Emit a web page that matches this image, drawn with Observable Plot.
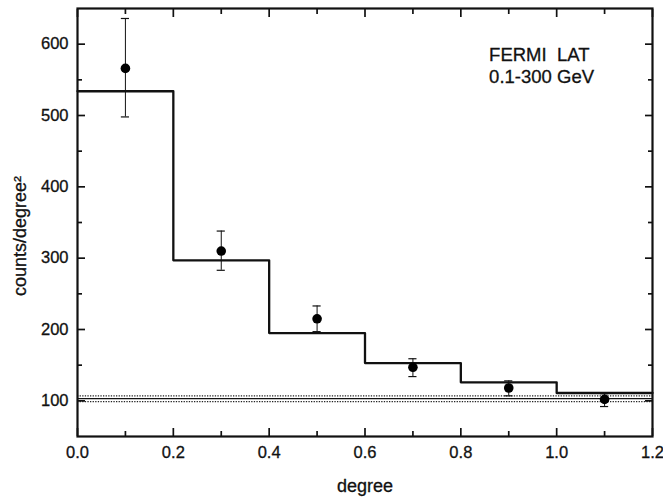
<!DOCTYPE html>
<html>
<head>
<meta charset="utf-8">
<script src="https://cdn.jsdelivr.net/npm/d3@7"></script>
<script src="https://cdn.jsdelivr.net/npm/@observablehq/plot@0.6"></script>
<style>
  html, body { margin: 0; padding: 0; background: #fff; }
  #chart svg { display: block; }
  #chart svg text { stroke: #111; stroke-width: 0.3px; }
</style>
</head>
<body>
<div id="chart"></div>
<script>
// Histogram (model) bin edges and heights
const binEdges = [0, 0.2, 0.4, 0.6, 0.8, 1.0, 1.2];
const binCounts = [534, 297, 195, 153, 126, 111];

// Data points with error bars
const pointX = [0.1, 0.3, 0.5, 0.7, 0.9, 1.1];
const pointY = [566, 310, 215, 147, 118, 102];
const errLow = [498, 283, 197, 134, 107, 92];
const errHigh = [636, 338, 233, 159, 128, 110];

// Background level and its band
const bgLevel = [103];
const bgBand = [99, 107];

// Tick values
const xMajorTicks = [0, 0.2, 0.4, 0.6, 0.8, 1.0, 1.2];
const xMinorTicks = [0.1, 0.3, 0.5, 0.7, 0.9, 1.1];
const yMajorTicks = [100, 200, 300, 400, 500, 600];
const yMinorTicks = [150, 250, 350, 450, 550];

const xTitle = "degree";
const yTitle = "counts/degree\u00b2";
const annotation = "FERMI\u00a0\u00a0LAT\n0.1-300 GeV";

const steps = binEdges.map((x, i) => ({x, y: binCounts[Math.min(i, binCounts.length - 1)]}));
const points = pointX.map((x, i) => ({x, y: pointY[i], low: errLow[i], high: errHigh[i]}));
const capHalf = 0.0085;

const font = "'Liberation Sans', Arial, Helvetica, sans-serif";
const tickOpts = {tickFormat: () => "", label: null, strokeWidth: 1.7};

const chart = Plot.plot({
  width: 663,
  height: 498,
  marginLeft: 77,
  marginRight: 11,
  marginTop: 8,
  marginBottom: 62,
  style: {fontFamily: font, color: "#111", background: "#fff"},
  x: {domain: [0, 1.2]},
  y: {domain: [50, 650]},
  marks: [
    // background band and level
    Plot.ruleY(bgBand, {stroke: "#222", strokeWidth: 1.3, strokeDasharray: "1.3,1.3"}),
    Plot.ruleY(bgLevel, {stroke: "#111", strokeWidth: 1.2}),
    // model histogram
    Plot.line(steps, {x: "x", y: "y", curve: "step-after", stroke: "#111", strokeWidth: 2.3}),
    // error bars
    Plot.ruleX(points, {x: "x", y1: "low", y2: "high", stroke: "#111", strokeWidth: 1}),
    Plot.ruleY(points, {y: "low", x1: d => d.x - capHalf, x2: d => d.x + capHalf, stroke: "#111", strokeWidth: 1.2}),
    Plot.ruleY(points, {y: "high", x1: d => d.x - capHalf, x2: d => d.x + capHalf, stroke: "#111", strokeWidth: 1.2}),
    Plot.dot(points, {x: "x", y: "y", r: 4.8, fill: "#000", stroke: "none"}),
    // inward ticks on all four sides
    Plot.axisX(xMajorTicks, {anchor: "bottom", tickSize: -8, ...tickOpts}),
    Plot.axisX(xMinorTicks, {anchor: "bottom", tickSize: -5, ...tickOpts}),
    Plot.axisX(xMajorTicks, {anchor: "top", tickSize: -8, ...tickOpts}),
    Plot.axisX(xMinorTicks, {anchor: "top", tickSize: -5, ...tickOpts}),
    Plot.axisY(yMajorTicks, {anchor: "left", tickSize: -8, ...tickOpts}),
    Plot.axisY(yMinorTicks, {anchor: "left", tickSize: -5, ...tickOpts}),
    Plot.axisY(yMajorTicks, {anchor: "right", tickSize: -8, ...tickOpts}),
    Plot.axisY(yMinorTicks, {anchor: "right", tickSize: -5, ...tickOpts}),
    // tick labels
    Plot.axisX(xMajorTicks, {anchor: "bottom", tickSize: 0, tickPadding: 10, fontSize: 16.5, tickFormat: d3.format(".1f"), label: null}),
    Plot.axisY(yMajorTicks, {anchor: "left", tickSize: 0, tickPadding: 9, fontSize: 16.5, tickFormat: d => String(d), label: null}),
    // axis titles
    Plot.text([xTitle], {frameAnchor: "bottom", textAnchor: "middle", dy: 55, fontSize: 18, fill: "#111"}),
    Plot.text([yTitle], {frameAnchor: "left", textAnchor: "middle", lineAnchor: "middle", rotate: -90, dx: -57, dy: 13.5, fontSize: 18, fill: "#111"}),
    // annotation
    Plot.text([annotation], {x: 0.859, y: 599, textAnchor: "start", lineAnchor: "top", lineHeight: 1.22, fontSize: 18.5, fill: "#111"}),
    Plot.frame({stroke: "#111", strokeWidth: 2.2})
  ]
});

document.getElementById("chart").appendChild(chart);
</script>
</body>
</html>
